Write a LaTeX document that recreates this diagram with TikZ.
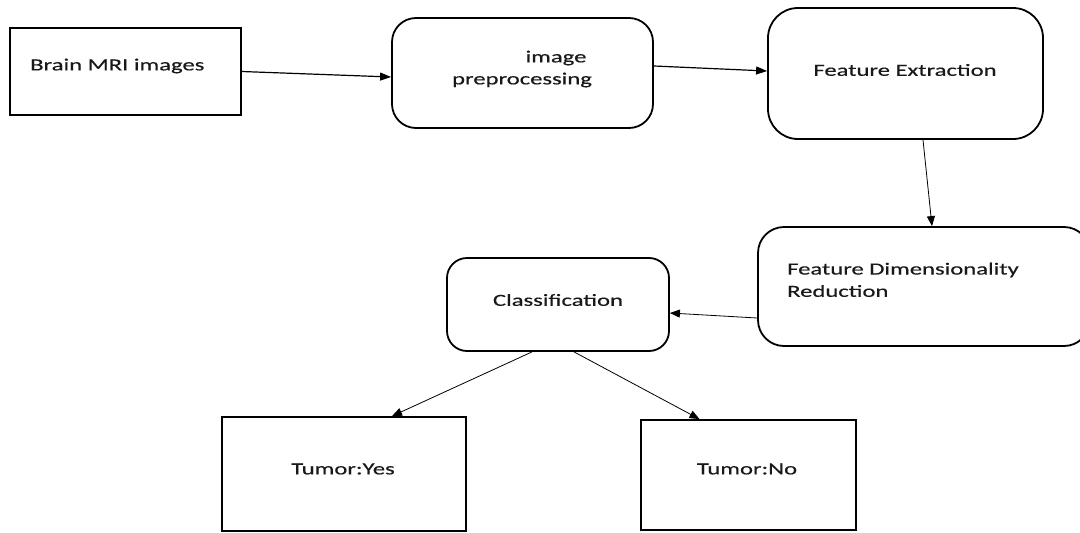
\documentclass[tikz,border=0pt]{standalone}
\usepackage{fontspec}
\setmainfont{Carlito}[FakeStretch=1.45,FakeBold=0.4]
\usetikzlibrary{arrows.meta,calc}
\begin{document}
\begin{tikzpicture}[x=1pt,y=-1pt,
  sqbox/.style={draw=black,line width=1.8pt,inner sep=0pt,minimum width=#1},
  rbox/.style={draw=black,line width=1.8pt,inner sep=0pt,rounded corners=24pt},
  lbl/.style={inner sep=0pt,text=black!90,font=\fontsize{17}{22}\selectfont},
  conn/.style={draw=black,line width=1.2pt,-{Triangle[length=11pt,width=8pt]}},
  thin/.style={draw=black,line width=0.8pt,-{Triangle[length=10pt,width=8pt]}}]
\useasboundingbox (0,0) rectangle (1080,533);
% boxes
\node[sqbox=231pt,minimum height=87pt] (mri) at (125.5,71.5) {};
\node[rbox,minimum width=261pt,minimum height=110pt] (pre) at (522.5,73) {};
\node[rbox,rounded corners=30pt,minimum width=275pt,minimum height=131pt] (fe) at (905.5,73.5) {};
\node[rbox,rounded corners=26pt,minimum width=332pt,minimum height=119pt] (dim) at (924,286.5) {};
\node[rbox,rounded corners=20pt,minimum width=222pt,minimum height=93pt] (cls) at (558,304.5) {};
\node[sqbox=244pt,minimum height=114pt] (yes) at (344,474) {};
\node[sqbox=215pt,minimum height=110pt] (no) at (748.5,475) {};
% texts
\node[lbl,anchor=west] (tmri) at (30,66) {Brain MRI images};
\node[lbl] (tpre1) at (556,58) {image};
\node[lbl] (tpre2) at (522,80) {preprocessing};
\node[lbl] (tfe) at (905,70) {Feature Extraction};
\node[lbl,anchor=west] (tdim1) at (787,270) {Feature Dimensionality};
\node[lbl,anchor=west] (tdim2) at (787,291) {Reduction};
\node[lbl] (tcls) at (558,300) {Classification};
\node[lbl] (tyes) at (343,469) {Tumor:Yes};
\node[lbl] (tno) at (747,469) {Tumor:No};
% connectors
\draw[conn] (mri.east) -- ([yshift=-4pt]pre.west);
\draw[conn] ([yshift=7pt]pre.east) -- ([yshift=2.5pt]fe.west);
\draw[thin] ([xshift=17.5pt]fe.south) -- ([xshift=8pt]dim.north);
\draw[thin] ([yshift=-31.5pt]dim.west) -- ([yshift=-8.5pt]cls.east);
\draw[thin] ([xshift=-26pt]cls.south) -- ([xshift=48pt]yes.north);
\draw[thin] ([xshift=16pt]cls.south) -- ([xshift=-49pt]no.north);
\end{tikzpicture}
\end{document}
